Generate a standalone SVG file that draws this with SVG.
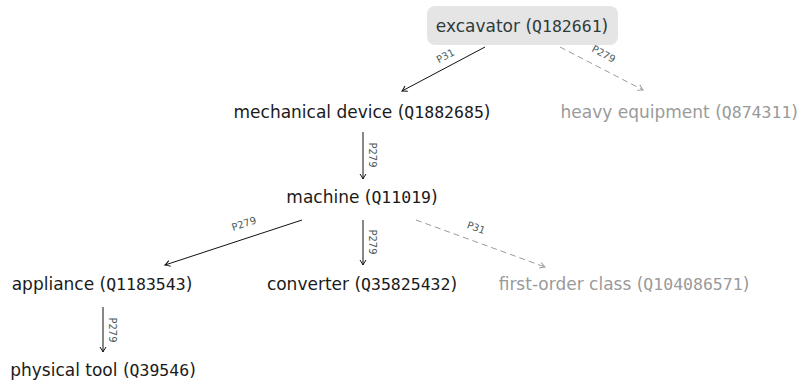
<svg xmlns="http://www.w3.org/2000/svg" width="802" height="382" viewBox="0 0 802 382">
  <style>
    .node { font-family: "DejaVu Sans", sans-serif; font-size: 17px; fill: #1a1a1a; }
    .node .id { font-family: "DejaVu Sans Mono", monospace; font-size: 16.5px; }
    .faded { fill: #9a9a9a; }
    .root { fill: #2f3b3b; }
    .edge { fill: none; stroke: #111; stroke-width: 1; }
    .edge.dashed { stroke: #9a9a9a; stroke-dasharray: 6 4; }
    .lbl { font-family: "DejaVu Sans", sans-serif; font-size: 10px; fill: #4a5c5c; text-anchor: middle; }
  </style>
  <defs>
    <marker id="arr" viewBox="-6 -4 8 8" markerWidth="8" markerHeight="8" refX="0" refY="0" orient="auto" markerUnits="userSpaceOnUse">
      <path d="M -5,-3 Q -1.5,-0.6 0,0 Q -1.5,0.6 -5,3" fill="none" stroke="#111" stroke-width="1"/>
    </marker>
    <marker id="arrg" viewBox="-6 -4 8 8" markerWidth="8" markerHeight="8" refX="0" refY="0" orient="auto" markerUnits="userSpaceOnUse">
      <path d="M -5,-3 Q -1.5,-0.6 0,0 Q -1.5,0.6 -5,3" fill="none" stroke="#9a9a9a" stroke-width="1"/>
    </marker>
  </defs>

  <g id="connectors">
    <line class="edge" x1="485" y1="47" x2="402" y2="91" marker-end="url(#arr)"/>
    <line class="edge dashed" x1="560" y1="47" x2="643" y2="90" marker-end="url(#arrg)"/>
    <line class="edge" x1="363" y1="132" x2="363" y2="179" marker-end="url(#arr)"/>
    <line class="edge" x1="302" y1="220" x2="165" y2="265" marker-end="url(#arr)"/>
    <line class="edge" x1="363" y1="220" x2="363" y2="265" marker-end="url(#arr)"/>
    <line class="edge dashed" x1="416" y1="220" x2="545" y2="267" marker-end="url(#arrg)"/>
    <line class="edge" x1="103" y1="307" x2="103" y2="352" marker-end="url(#arr)"/>

    <text class="lbl" transform="translate(447,59) rotate(-28)">P31</text>
    <text class="lbl" transform="translate(602,57) rotate(28)">P279</text>
    <text class="lbl" transform="translate(369,155) rotate(90)">P279</text>
    <text class="lbl" transform="translate(245,227) rotate(-18)">P279</text>
    <text class="lbl" transform="translate(369,242) rotate(90)">P279</text>
    <text class="lbl" transform="translate(475,231) rotate(20)">P31</text>
    <text class="lbl" transform="translate(109,330) rotate(90)">P279</text>
  </g>

  <g id="n-excavator">
    <rect x="427" y="6" width="191" height="39" rx="8" fill="#e5e5e5"/>
    <text class="node root" x="522" y="32" text-anchor="middle">excavator (<tspan class="id">Q182661</tspan>)</text>
  </g>
  <g id="n-mechanical-device">
    <text class="node" x="362" y="118" text-anchor="middle">mechanical device (<tspan class="id">Q1882685</tspan>)</text>
  </g>
  <g id="n-heavy-equipment">
    <text class="node faded" x="798" y="118" text-anchor="end">heavy equipment (<tspan class="id">Q874311</tspan>)</text>
  </g>
  <g id="n-machine">
    <text class="node" x="362" y="203" text-anchor="middle">machine (<tspan class="id">Q11019</tspan>)</text>
  </g>
  <g id="n-appliance">
    <text class="node" x="102" y="290" text-anchor="middle">appliance (<tspan class="id">Q1183543</tspan>)</text>
  </g>
  <g id="n-converter">
    <text class="node" x="362" y="290" text-anchor="middle">converter (<tspan class="id">Q35825432</tspan>)</text>
  </g>
  <g id="n-first-order-class">
    <text class="node faded" x="624" y="290" text-anchor="middle">first-order class (<tspan class="id">Q104086571</tspan>)</text>
  </g>
  <g id="n-physical-tool">
    <text class="node" x="103" y="376" text-anchor="middle">physical tool (<tspan class="id">Q39546</tspan>)</text>
  </g>
</svg>
